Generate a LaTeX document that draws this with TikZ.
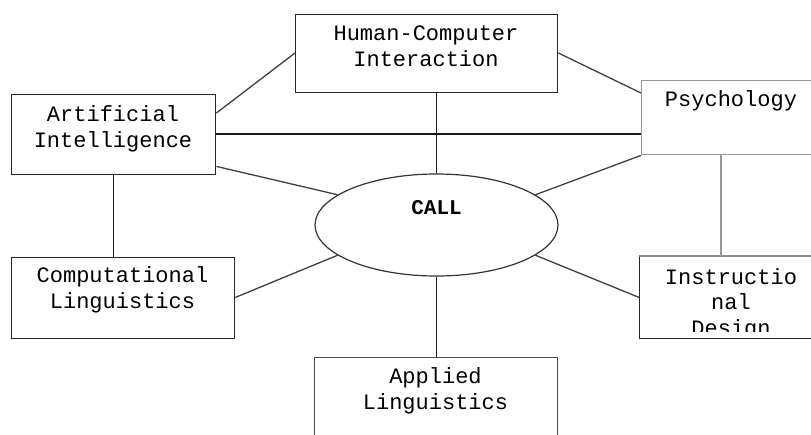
\documentclass[tikz,border=0pt]{standalone}
\usepackage{fontspec}
\newfontfamily\monofam{Liberation Mono}
\usetikzlibrary{shapes.geometric}
\tikzset{
  boxnode/.style={draw=black!85, line width=1.4pt, rectangle, anchor=north west, inner sep=0pt},
  lbl/.style={anchor=base, align=center, inner sep=0pt, font=\monofam\fontsize{22}{25.5}\selectfont},
  conn/.style={draw=black!75, line width=1.3pt},
  straight/.style={draw=black!90, line width=1.4pt},
  grayline/.style={draw=black!40, line width=2pt}
}
\begin{document}
\begin{tikzpicture}[x=1pt,y=-1pt]
\clip (0,0) rectangle (811,434);
\fill[white] (0,0) rectangle (811,434);
% boxes
\node[boxnode, minimum width=262pt, minimum height=78pt] (hci) at (295,14) {};
\node[boxnode, minimum width=204pt, minimum height=80pt] (ai) at (11,94) {};
\node[boxnode, draw=black!40, minimum width=180pt, minimum height=74pt] (psych) at (641,80) {};
\node[boxnode, minimum width=223pt, minimum height=81pt] (cl) at (11,257) {};
\node[boxnode, minimum width=180pt, minimum height=82pt] (instr) at (639,256) {};
\node[boxnode, draw=black!70, minimum width=243pt, minimum height=100pt] (appl) at (314,357) {};
\draw[draw=black!45, line width=1.4pt] (instr.north west) -- (instr.north east);
% ellipse
\node[ellipse, draw=black!80, line width=1.2pt, minimum width=243pt, minimum height=102pt, inner sep=0pt] (call) at (436.5,225) {};
% texts (anchor base = last line baseline)
\node[lbl] (hcitxt) at (426,66) {Human-Computer\\Interaction};
\node[lbl] (aitxt) at (113,147) {Artificial\\Intelligence};
\node[lbl] (psychtxt) at (731,106) {Psychology};
\node[lbl] (cltxt) at (122.5,308) {Computational\\Linguistics};
\begin{scope}
\clip (640,257) rectangle (811,331);
\node[lbl] (instrtxt) at (731,335) {Instructio\\nal\\Design};
\end{scope}
\node[lbl] (appltxt) at (435.5,409) {Applied\\Linguistics};
\node[lbl, font=\monofam\bfseries\fontsize{21}{25}\selectfont] (calltxt) at (436.5,214) {CALL};
% connectors
\draw[conn] ([yshift=-19pt]ai.north east) -- ([yshift=-39pt]hci.north west);
\draw[conn] ([yshift=-39pt]hci.north east) -- ([yshift=-13pt]psych.north west);
\draw[straight] ([yshift=-40pt]ai.north east) -- ([yshift=-54pt]psych.north west);
\draw[straight] (call.north |- hci.south) -- (call.north);
\draw[straight] (ai.south) -- (ai.south |- cl.north);
\draw[conn] ([yshift=9pt]ai.south east) -- (call.163);
\draw[conn] (psych.south west) -- (call.17);
\draw[conn] ([yshift=42pt]cl.south east) -- (call.197);
\draw[conn] ([yshift=42pt]instr.south west) -- (call.343);
\draw[straight] (call.south) -- (call.south |- appl.north);
\draw[grayline] ([xshift=80pt]psych.south west) -- ([xshift=82pt]instr.north west);
\end{tikzpicture}
\end{document}
